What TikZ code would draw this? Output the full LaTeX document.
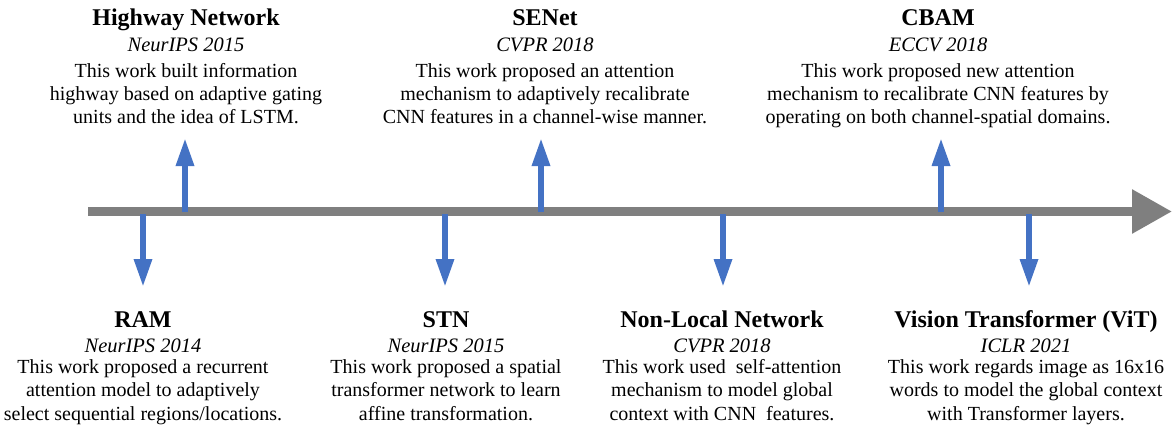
\documentclass[tikz,border=0pt]{standalone}
\usepackage{fontspec}
\setmainfont{Liberation Serif}
\usetikzlibrary{arrows.meta}
\definecolor{axisgray}{HTML}{7F7F7F}
\definecolor{evblue}{HTML}{4472C4}

\begin{document}
\begin{tikzpicture}[x=1pt,y=-1pt,
  title/.style={anchor=base,inner sep=0pt,font=\fontsize{24}{28}\selectfont\bfseries},
  venue/.style={anchor=base,inner sep=0pt,font=\fontsize{20.5}{24}\selectfont\itshape},
  desc/.style={anchor=base,inner sep=0pt,align=center,font=\fontsize{20}{23.3}\selectfont},
  timeline/.style={draw=axisgray,line width=9pt,-{Triangle[length=40pt,width=42pt]}},
  evarrow/.style={draw=evblue,line width=6pt,-{Triangle[length=28pt,width=17pt]}}]
  \useasboundingbox (0,0) rectangle (1172,425);

  % time axis
  \coordinate (start) at (88,211.5);
  \coordinate (end) at (1172,211.5);
  \draw[timeline] (start) -- (end);

  % events above the axis
  \coordinate (hw) at (185,212);  \coordinate (hwtip) at (185,138);
  \coordinate (se) at (541,212);  \coordinate (setip) at (541,138);
  \coordinate (cb) at (941,212);  \coordinate (cbtip) at (941,138);
  % events below the axis
  \coordinate (ram) at (143,214); \coordinate (ramtip) at (143,287);
  \coordinate (stn) at (445,214); \coordinate (stntip) at (445,287);
  \coordinate (nl) at (723,214);  \coordinate (nltip) at (723,287);
  \coordinate (vit) at (1029,214); \coordinate (vittip) at (1029,287);
  \draw[evarrow] (hw) -- (hwtip);
  \draw[evarrow] (se) -- (setip);
  \draw[evarrow] (cb) -- (cbtip);
  \draw[evarrow] (ram) -- (ramtip);
  \draw[evarrow] (stn) -- (stntip);
  \draw[evarrow] (nl) -- (nltip);
  \draw[evarrow] (vit) -- (vittip);

  % Highway Network
  \node[title] (hwname) at (186,26) {Highway Network};
  \node[venue] (hwvenue) at (186,52) {NeurIPS 2015};
  \node[desc] (hwdesc) at (186,124) {This work built information\\highway based on adaptive gating\\units and the idea of LSTM.};
  % SENet
  \node[title] (sename) at (545,26) {SENet};
  \node[venue] (sevenue) at (545,52) {CVPR 2018};
  \node[desc] (sedesc) at (545,124) {This work proposed an attention\\mechanism to adaptively recalibrate\\CNN features in a channel-wise manner.};
  % CBAM
  \node[title] (cbname) at (938,26) {CBAM};
  \node[venue] (cbvenue) at (938,52) {ECCV 2018};
  \node[desc] (cbdesc) at (938,124) {This work proposed new attention\\mechanism to recalibrate CNN features by\\operating on both channel-spatial domains.};
  % RAM
  \node[title] (ramname) at (143,327) {RAM};
  \node[venue] (ramvenue) at (143,352) {NeurIPS 2014};
  \node[desc] (ramdesc) at (143,420) {This work proposed a recurrent\\attention model to adaptively\\select sequential regions/locations.};
  % STN
  \node[title] (stnname) at (446,327) {STN};
  \node[venue] (stnvenue) at (446,352) {NeurIPS 2015};
  \node[desc] (stndesc) at (446,420) {This work proposed a spatial\\transformer network to learn\\affine transformation.};
  % Non-Local Network
  \node[title] (nlname) at (722,327) {Non-Local Network};
  \node[venue] (nlvenue) at (722,352) {CVPR 2018};
  \node[desc] (nldesc) at (722,420) {This work used\ \ self-attention\\mechanism to model global\\context with CNN\ \ features.};
  % Vision Transformer
  \node[title] (vitname) at (1026,327) {Vision Transformer (ViT)};
  \node[venue] (vitvenue) at (1026,352) {ICLR 2021};
  \node[desc] (vitdesc) at (1026,420) {This work regards image as 16x16\\words to model the global context\\with Transformer layers.};
\end{tikzpicture}
\end{document}
